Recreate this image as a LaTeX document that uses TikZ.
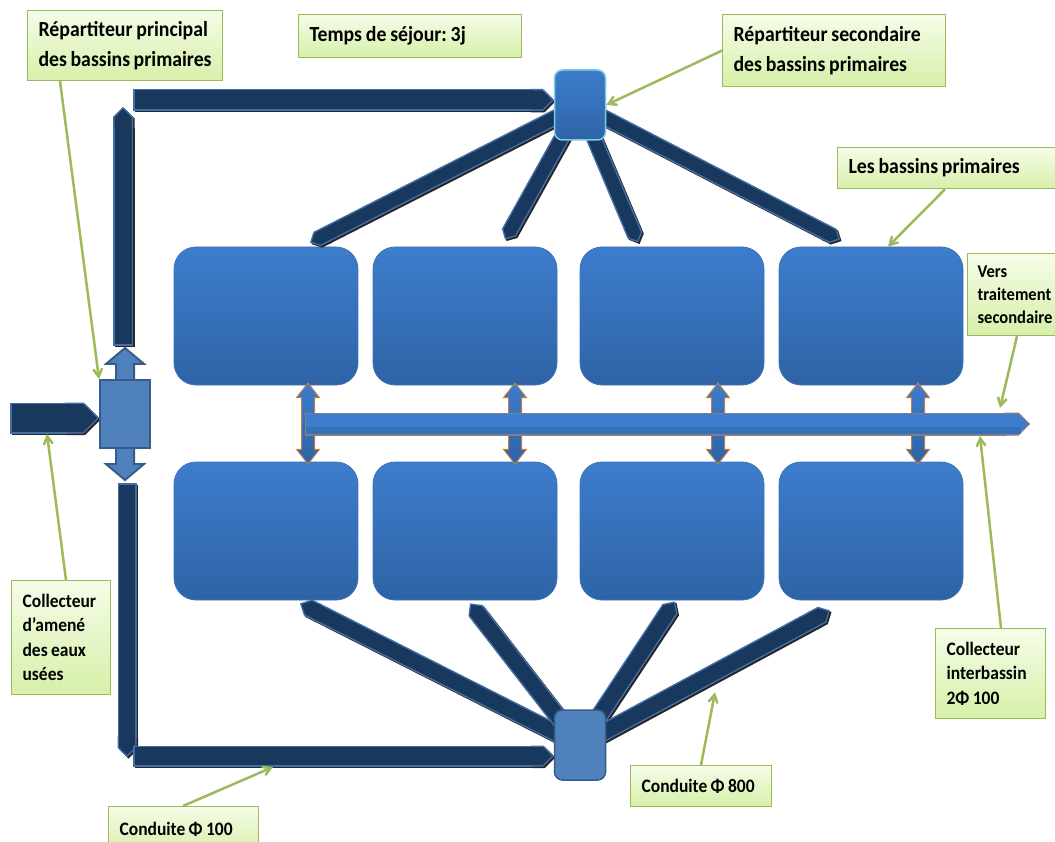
\documentclass[tikz,border=0pt]{standalone}
\usepackage{fontspec}
\setmainfont{Carlito}[FakeStretch=0.92,WordSpace=0.85]
\frenchspacing
\hyphenpenalty=10000
\exhyphenpenalty=10000
\usetikzlibrary{arrows,calc,shapes.arrows,backgrounds}
\definecolor{bleubassin}{rgb}{0.24,0.49,0.80}
\definecolor{bleubas}{rgb}{0.18,0.39,0.65}
\definecolor{bordbassin}{rgb}{0.25,0.45,0.72}
\definecolor{bleurep}{rgb}{0.31,0.51,0.74}
\definecolor{bordrep}{rgb}{0.22,0.36,0.54}
\definecolor{marine}{rgb}{0.10,0.22,0.37}
\definecolor{bordmarine}{rgb}{0.27,0.43,0.64}
\definecolor{orangebord}{rgb}{0.76,0.49,0.28}
\definecolor{vertnote}{rgb}{0.61,0.73,0.35}
\definecolor{vertclair}{rgb}{0.96,0.99,0.91}
\definecolor{vertfonce}{rgb}{0.84,0.94,0.66}

% conduite : largeur, depart, arrivee, bouts
\newcommand{\conduite}[4][16]{%
\draw[line width=#1pt,black!85,#4] ([shift={(1.5,1.5)}]#2) -- ([shift={(1.5,1.5)}]#3);
\draw[line width=#1pt,bordmarine,#4] (#2) -- (#3);
\draw[line width=#1pt-3pt,marine,#4,shorten >=2pt,shorten <=2pt] (#2) -- (#3);}

\tikzset{
bassin/.style={rounded corners=22pt,minimum width=184pt,minimum height=138pt,
  draw=bordbassin,line width=0.8pt,top color=bleubassin,bottom color=bleubas},
repart/.style={rounded corners=8pt,minimum width=51pt,minimum height=70pt,line width=1.5pt},
vfleche/.style={double arrow,rotate=90,draw=orangebord,line width=1pt,
  top color=bleubassin,bottom color=bleubas,inner xsep=0pt,inner ysep=6pt,
  double arrow head extend=5pt,double arrow tip angle=76,minimum height=81pt},
note/.style={anchor=north west,draw=vertnote,line width=1.2pt,top color=vertclair,
  bottom color=vertfonce,align=flush left,inner xsep=11pt,inner ysep=0pt,text=black,
  font=\bfseries\fontsize{21.5}{29.5}\selectfont},
petitenote/.style={note,inner xsep=11pt,font=\bfseries\fontsize{19}{24.5}\selectfont},
fleche/.style={draw=vertnote,line width=2.5pt,->,>=angle 60}
}

\begin{document}
\begin{tikzpicture}[line cap=butt,line join=miter,x=1pt,y=-1pt]
\useasboundingbox (0,0) rectangle (1055,842);
\clip (0,0) rectangle (1055,842);

% repartiteurs
\node[repart,draw=bordbassin!60!cyan!60!white,top color=bleubassin,bottom color=bleubas] (dsec) at (580,105) {};
\node[repart,draw=bordrep,fill=bleurep] (dbas) at (580,745) {};
\node[double arrow,rotate=90,draw=bordrep,fill=bleurep,line width=2pt,inner xsep=0pt,inner ysep=8pt,
  double arrow head extend=10pt,double arrow tip angle=100,minimum height=132pt] (dfl) at (125,414) {};
\node[draw=bordrep,fill=bleurep,line width=2pt,minimum width=50pt,minimum height=68pt] (dprin) at (125,414) {};

\begin{scope}[on background layer]
% bassins
\foreach \i/\x in {1/266,2/465,3/672,4/871}{
  \node[bassin] (bt\i) at (\x,316) {};
  \node[bassin] (bb\i) at (\x,531) {};
}
\foreach \i/\d in {1/42,2/50,3/46,4/47}
  \node[vfleche] (da\i) at ($(bt\i.south)!.5!(bb\i.north)+(\d,0)$) {};

% collecteur interbassin
\coordinate (ci0) at (305,424);
\coordinate (ci1) at (1030,424);
\draw[line width=23pt,orangebord!55!bleubassin,-triangle 90 cap] (ci0) -- (ci1);
\draw[line width=20pt,bleubassin,-triangle 90 cap,shorten >=2pt,shorten <=1pt] (ci0) -- (ci1);
\draw[line width=7pt,bleubas!50!bleubassin,shorten >=9pt,shorten <=1pt] ($(ci0)+(0,6)$) -- ($(ci1)+(0,6)$);

% points d'arrivee
\coordinate (ent) at (10,418);
\coordinate (ent1) at ($(dprin.west)+(0,4)$);
\coordinate (vh) at (123,107);
\coordinate (vh1) at ($(dprin.north)+(-2,-33)$);
\coordinate (vb0) at ($(dprin.south)+(2,34)$);
\coordinate (vb) at (127,757);
\coordinate (th0) at (133,100);
\coordinate (th1) at ($(dsec.west)+(0,-5)$);
\coordinate (bh0) at (133,756);
\coordinate (bh1) at ($(dbas.west)+(0,11)$);
\coordinate (t1) at ($(bt1.north)+(44,-4)$);
\coordinate (t2) at ($(bt2.north)+(40,-7)$);
\coordinate (t3) at ($(bt3.north)+(-34,-4)$);
\coordinate (t4) at ($(bt4.north)+(-31,-7)$);
\coordinate (u1) at ($(bb1.south)+(34,3)$);
\coordinate (u2) at ($(bb2.south)+(5,3)$);
\coordinate (u3) at ($(bb3.south)+(3,1)$);
\coordinate (u4) at ($(bb4.south)+(-41,10)$);

% conduites
\conduite[31]{ent}{ent1}{-triangle 90 cap}
\conduite[20]{vh}{vh1}{triangle 90 cap-}
\conduite[19]{vb0}{vb}{-triangle 90 cap}
\conduite[22]{th0}{th1}{-triangle 90 cap}
\conduite[21]{bh0}{bh1}{-triangle 90 cap}
\foreach \i in {1,...,4}{
  \conduite[16]{dsec.center}{t\i}{-triangle 90 cap}
  \conduite[18]{dbas.center}{u\i}{-triangle 90 cap}
}
\end{scope}

% etiquettes
\node[note,text width=173pt,minimum height=70pt] (nPrin) at (27,10) {Répartiteur principal\\des bassins primaires};
\node[note,text width=201pt,minimum height=43pt] (nTemps) at (298,14) {Temps de séjour: 3j};
\node[note,text width=201pt,minimum height=72pt] (nSec) at (722,14) {Répartiteur secondaire\\des bassins primaires};
\node[note,text width=202pt,minimum height=41pt] (nBassins) at (837,147) {Les bassins primaires};
\node[petitenote,inner xsep=10pt,text width=72pt,minimum height=82pt,font=\bfseries\fontsize{18}{23}\selectfont] (nVers) at (967,253) {Vers\\traitement\\secondaire};
\node[petitenote,text width=77pt,minimum height=114pt] (nCollAm) at (11,580) {Collecteur\\d’amené\\des eaux\\usées};
\node[petitenote,text width=128pt,minimum height=46pt] (nCond100) at (108,806) {Conduite Φ 100};
\node[petitenote,text width=119pt,minimum height=41pt] (nCond800) at (630,765) {Conduite Φ 800};
\node[petitenote,text width=88pt,minimum height=90pt] (nInter) at (935,628) {Collecteur\\interbassin\\2Φ 100};

% renvois
\draw[fleche] ($(nPrin.south west)+(33,0)$) -- (dprin.north west);
\draw[fleche] (nSec.west) -- (dsec.east);
\draw[fleche] ($(nBassins.south west)+(108,0)$) -- ($(bt4.north)+(17,0)$);
\draw[fleche] ($(nVers.south west)+(50,0)$) -- ($(ci1)+(-30,-16)$);
\draw[fleche] ($(nCollAm.north west)+(55,0)$) -- ($(ent)+(37,16)$);
\draw[fleche] ($(nCond100.north west)+(75,0)$) -- ($(bh0)+(140,11)$);
\draw[fleche] ($(nCond800.north west)+(71,0)$) -- ($(bb4.south)+(-156,92)$);
\draw[fleche] ($(nInter.north west)+(66,0)$) -- ($(ci1)+(-50,12)$);
\end{tikzpicture}
\end{document}
